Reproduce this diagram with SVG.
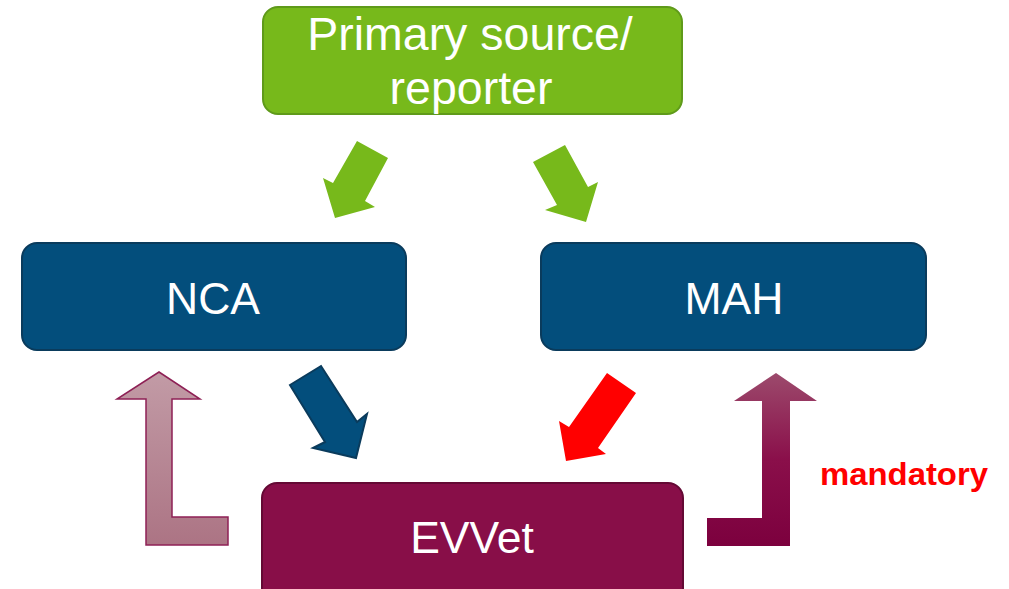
<svg xmlns="http://www.w3.org/2000/svg" width="1009" height="589" viewBox="0 0 1009 589">
<style>
.lbl{font-family:"Liberation Sans",Arial,sans-serif;fill:#fff;text-anchor:middle}
.green{fill:#77b91b;stroke:#5f9a1a;stroke-width:2}
.blue{fill:#034e7c;stroke:#0a3b5c;stroke-width:2}
.plum{fill:#880e48;stroke:#640934;stroke-width:2}
</style>
<defs>
<linearGradient id="gPale" x1="0" y1="0" x2="0" y2="1">
<stop offset="0" stop-color="#c29ba6"/><stop offset="1" stop-color="#ac7484"/>
</linearGradient>
<linearGradient id="gDark" x1="0" y1="0" x2="0" y2="1">
<stop offset="0" stop-color="#9c4a6c"/><stop offset="0.5" stop-color="#8a0f4a"/><stop offset="1" stop-color="#7c003e"/>
</linearGradient>
</defs>
<g id="connectors">
<polygon points="357,141 388,158 365,201 375,207 335,218 323,178 333,183" fill="#77b91b"/>
<polygon points="533,162 565,145 588,187 598,182 586,222 545,210 557,205" fill="#77b91b"/>
<polygon points="290,385 321,366 357,422 367,414 356,458 313,448 325,442" fill="#034e7c" stroke="#0a3b5c" stroke-width="2" stroke-linejoin="miter"/>
<polygon points="607,373 636,393 598,448 606,454 566,461 559,421 569,427" fill="#ff0000"/>
<polygon points="159,372 200,399 172,399 172,517 228,517 228,545 146,545 146,399 117,399" fill="url(#gPale)" stroke="#8e2055" stroke-width="1.5"/>
<polygon points="776,373 817,401 790,401 790,546 707,546 707,518 762,518 762,401 734,401" fill="url(#gDark)"/>
</g>
<g id="node-primary">
<rect class="green" x="263" y="7" width="419" height="107" rx="15"/>
<text class="lbl" x="470" y="50" font-size="46.5">Primary source/</text>
<text class="lbl" x="471" y="104" font-size="46.5">reporter</text>
</g>
<g id="node-nca">
<rect class="blue" x="22" y="243" width="384" height="107" rx="15"/>
<text class="lbl" x="213" y="314" font-size="44.5">NCA</text>
</g>
<g id="node-mah">
<rect class="blue" x="541" y="243" width="385" height="107" rx="15"/>
<text class="lbl" x="734" y="314" font-size="44.5">MAH</text>
</g>
<g id="node-evvet">
<rect class="plum" x="262" y="483" width="421" height="120" rx="15"/>
<text class="lbl" x="472" y="553" font-size="44.5">EVVet</text>
</g>
<g id="label-mandatory">
<text x="820" y="485" font-family="'Liberation Sans',Arial,sans-serif" font-weight="bold" font-size="32" fill="#ff0000" textLength="168" lengthAdjust="spacingAndGlyphs">mandatory</text>
</g>
</svg>
